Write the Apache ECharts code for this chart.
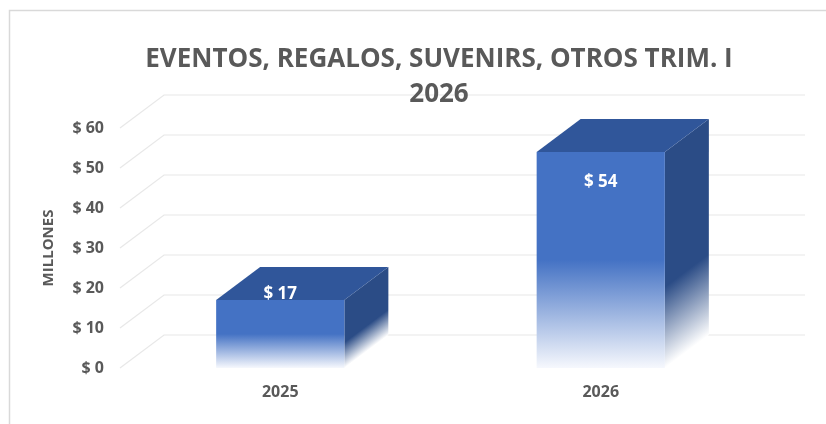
<!DOCTYPE html>
<html><head><meta charset="utf-8">
<script src="https://cdn.jsdelivr.net/npm/echarts@6/dist/echarts.min.js"></script>
<style>html,body{margin:0;padding:0;background:#fff}#c{width:826px;height:424px}</style>
</head><body><div id="c"></div>
<script>
const categories = ['2025', '2026'];
const values = [17, 54];
const yTicks = [0, 10, 20, 30, 40, 50, 60];
const titleLines = ['EVENTOS, REGALOS, SUVENIRS, OTROS TRIM. I', '2026'];
const yAxisName = 'MILLONES';

const DX = 44, DY = -33;
const FONT = '"Open Sans", sans-serif';
const labelShift = [-6, 30];
const chart = echarts.init(document.getElementById('c'), null, {renderer: 'canvas'});

const option = {
  animation: false,
  backgroundColor: '#ffffff',
  title: {
    text: titleLines.join('\n'),
    left: 434, top: 37, textAlign: 'center',
    textStyle: {fontFamily: FONT, fontSize: 26, fontWeight: 'bold', color: '#595959', lineHeight: 35}
  },
  graphic: [{
    type: 'rect', shape: {x: 9.5, y: 10.5, width: 900, height: 500},
    style: {fill: 'none', stroke: '#d9d9d9', lineWidth: 1.5}, silent: true, z: -10
  }],
  grid: {left: 120, right: 65, top: 128, bottom: 56},
  xAxis: {
    type: 'category', data: categories,
    axisLine: {show: false}, axisTick: {show: false}, splitLine: {show: false},
    axisLabel: {margin: 16, color: '#595959', fontFamily: FONT, fontSize: 16, fontWeight: 'bold'}
  },
  yAxis: {
    type: 'value', min: 0, max: 60, interval: 10,
    name: yAxisName, nameLocation: 'middle', nameRotate: 90, nameGap: 64,
    nameTextStyle: {color: '#595959', fontFamily: FONT, fontSize: 15, fontWeight: 'bold'},
    axisLine: {show: false}, axisTick: {show: false}, splitLine: {show: false},
    axisLabel: {margin: 16, color: '#595959', fontFamily: FONT, fontSize: 16, fontWeight: 'bold',
      formatter: v => '$ ' + v}
  },
  series: [
    {
      type: 'custom', clip: false, silent: true, z: 1,
      data: yTicks.map(v => [0, v]), encode: {x: 0, y: 1},
      renderItem: (params, api) => {
        const cs = params.coordSys;
        const y = api.coord([0, api.value(1)])[1];
        return {
          type: 'polyline',
          shape: {points: [[cs.x, y], [cs.x + DX, y + DY], [cs.x + cs.width + DX, y + DY]]},
          style: {stroke: '#e8e8e8', lineWidth: 1.2, fill: null}
        };
      }
    },
    {
      type: 'custom', clip: false, z: 2,
      data: values.map((v, i) => [i, v]), encode: {x: 0, y: 1},
      renderItem: (params, api) => {
        const i = api.value(0), v = api.value(1);
        const top = api.coord([i, v]);
        const base = api.coord([i, 0]);
        const bw = api.size([1, 0])[0] * 0.4;
        const x0 = top[0] - bw / 2, x1 = top[0] + bw / 2, yt = top[1], yb = base[1];
        const h = yb - yt;
        const mx = x1 + DX / 2, my = yb + DY / 2;
        const L = 0.3 * h;
        const sideGrad = new echarts.graphic.LinearGradient(
          mx - L * 0.6, my - L * 0.8, mx, my,
          [{offset: 0, color: '#2B4C86'}, {offset: 1, color: '#ffffff'}], true);
        return {
          type: 'group',
          children: [
            {
              type: 'polygon',
              shape: {points: [[x1, yt], [x1 + DX, yt + DY], [x1 + DX, yb + DY], [x1, yb]]},
              style: {fill: sideGrad}
            },
            {
              type: 'polygon',
              shape: {points: [[x0, yt], [x0 + DX, yt + DY], [x1 + DX, yt + DY], [x1, yt]]},
              style: {fill: '#30569A'}
            },
            {
              type: 'rect',
              shape: {x: x0, y: yt, width: bw, height: h},
              style: {fill: new echarts.graphic.LinearGradient(0, 0, 0, 1, [
                {offset: 0, color: '#4472C4'}, {offset: 0.5, color: '#4472C4'},
                {offset: 1, color: '#f6f8fd'}])}
            },
            {
              type: 'text',
              style: {
                text: '$ ' + v, x: top[0], y: yt + labelShift[i],
                align: 'center', verticalAlign: 'middle',
                fill: '#ffffff', fontFamily: FONT, fontSize: 17, fontWeight: 'bold'
              }
            }
          ]
        };
      }
    }
  ]
};
chart.setOption(option);
</script></body></html>
